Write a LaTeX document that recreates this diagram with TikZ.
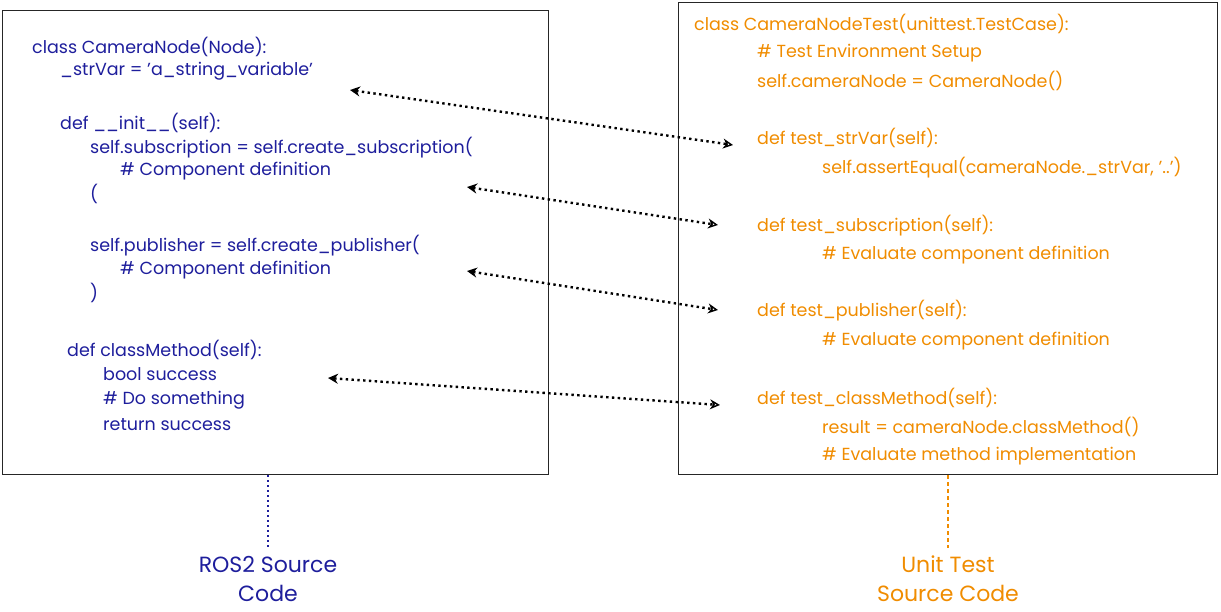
\documentclass[tikz,border=0pt]{standalone}
\usepackage{fontspec}
\setmainfont{Poppins}
\usepackage{xcolor}
\usetikzlibrary{arrows.meta}
\definecolor{rosblue}{HTML}{1E1E9C}
\definecolor{testorange}{HTML}{F08C00}

\begin{document}
\begin{tikzpicture}[x=1pt, y=-1pt, >=Stealth,
  code/.style={anchor=west, inner sep=0pt, font=\fontsize{17.5}{20}\selectfont},
  src/.style={code, text=rosblue},
  tst/.style={code, text=testorange},
  caption/.style={align=center, inner sep=0pt, font=\fontsize{22}{29}\selectfont},
  link/.style={line width=2.4pt, dash pattern=on 2.4pt off 3.4pt,
    {Stealth[length=10pt, width=10pt]}-{Stealth[open, length=10pt, width=10pt, line width=1.4pt]}},
  frame/.style={draw=black!85, line width=1pt},]
\useasboundingbox (0,0) rectangle (1221,611);
% boxes
\node[frame, minimum width=546pt, minimum height=464pt, anchor=north west] (srcbox) at (2,10) {};
\node[frame, minimum width=539pt, minimum height=472pt, anchor=north west] (tstbox) at (678,2) {};
% ROS2 source
\node[src] (s1) at (32,47) {class CameraNode(Node):};
\node[src] (s2) at (60,71) {\_strVar = 'a\_string\_variable'};
\node[src] (s3) at (60,123) {def \_\_init\_\_(self):};
\node[src] (s4) at (90,148) {self.subscription = self.create\_subscription(};
\node[src] (s5) at (120,171) {\# Component definition};
\node[src] (s6) at (90,194) {(};
\node[src] (s7) at (90,246) {self.publisher = self.create\_publisher(};
\node[src] (s8) at (120,270) {\# Component definition};
\node[src] (s9) at (90,293) {)};
\node[src] (s10) at (67,350) {def classMethod(self):};
\node[src] (s11) at (103,374) {bool success};
\node[src] (s12) at (103,400) {\# Do something};
\node[src] (s13) at (103,425) {return success};
% unit test source
\node[tst] (t1) at (694,24) {class CameraNodeTest(unittest.TestCase):};
\node[tst] (t2) at (757,53) {\# Test Environment Setup};
\node[tst] (t3) at (757,81) {self.cameraNode = CameraNode()};
\node[tst] (t4) at (757,138) {def test\_strVar(self):};
\node[tst] (t5) at (822,168) {self.assertEqual(cameraNode.\_strVar, '..')};
\node[tst] (t6) at (757,226) {def test\_subscription(self):};
\node[tst] (t7) at (822,255) {\# Evaluate component definition};
\node[tst] (t8) at (757,311) {def test\_publisher(self):};
\node[tst] (t9) at (822,341) {\# Evaluate component definition};
\node[tst] (t10) at (757,398) {def test\_classMethod(self):};
\node[tst] (t11) at (822,427) {result = cameraNode.classMethod()};
\node[tst] (t12) at (822,456) {\# Evaluate method implementation};
% captions
\node[caption, text=rosblue, anchor=north] (srccap) at (268,556) {ROS2 Source\\Code};
\node[caption, text=testorange, anchor=north] (tstcap) at (948,556) {Unit Test\\Source Code};
\draw[rosblue, line width=2.4pt, dash pattern=on 2.4pt off 2.6pt, shorten >=8pt] (srcbox.south -| srccap) -- (srccap.north);
\draw[testorange, line width=1.8pt, dash pattern=on 4pt off 3pt, shorten >=8pt] (tstbox.south -| tstcap) -- (tstcap.north);
% links
\coordinate (a1) at (350,90);  \coordinate (b1) at (733,145);
\coordinate (a2) at (467,187); \coordinate (b2) at (718,225);
\coordinate (a3) at (467,271); \coordinate (b3) at (718,310);
\coordinate (a4) at (328,378); \coordinate (b4) at (720,405);
\foreach \i in {1,...,4}
  \draw[link] (a\i) -- (b\i);
\end{tikzpicture}
\end{document}
